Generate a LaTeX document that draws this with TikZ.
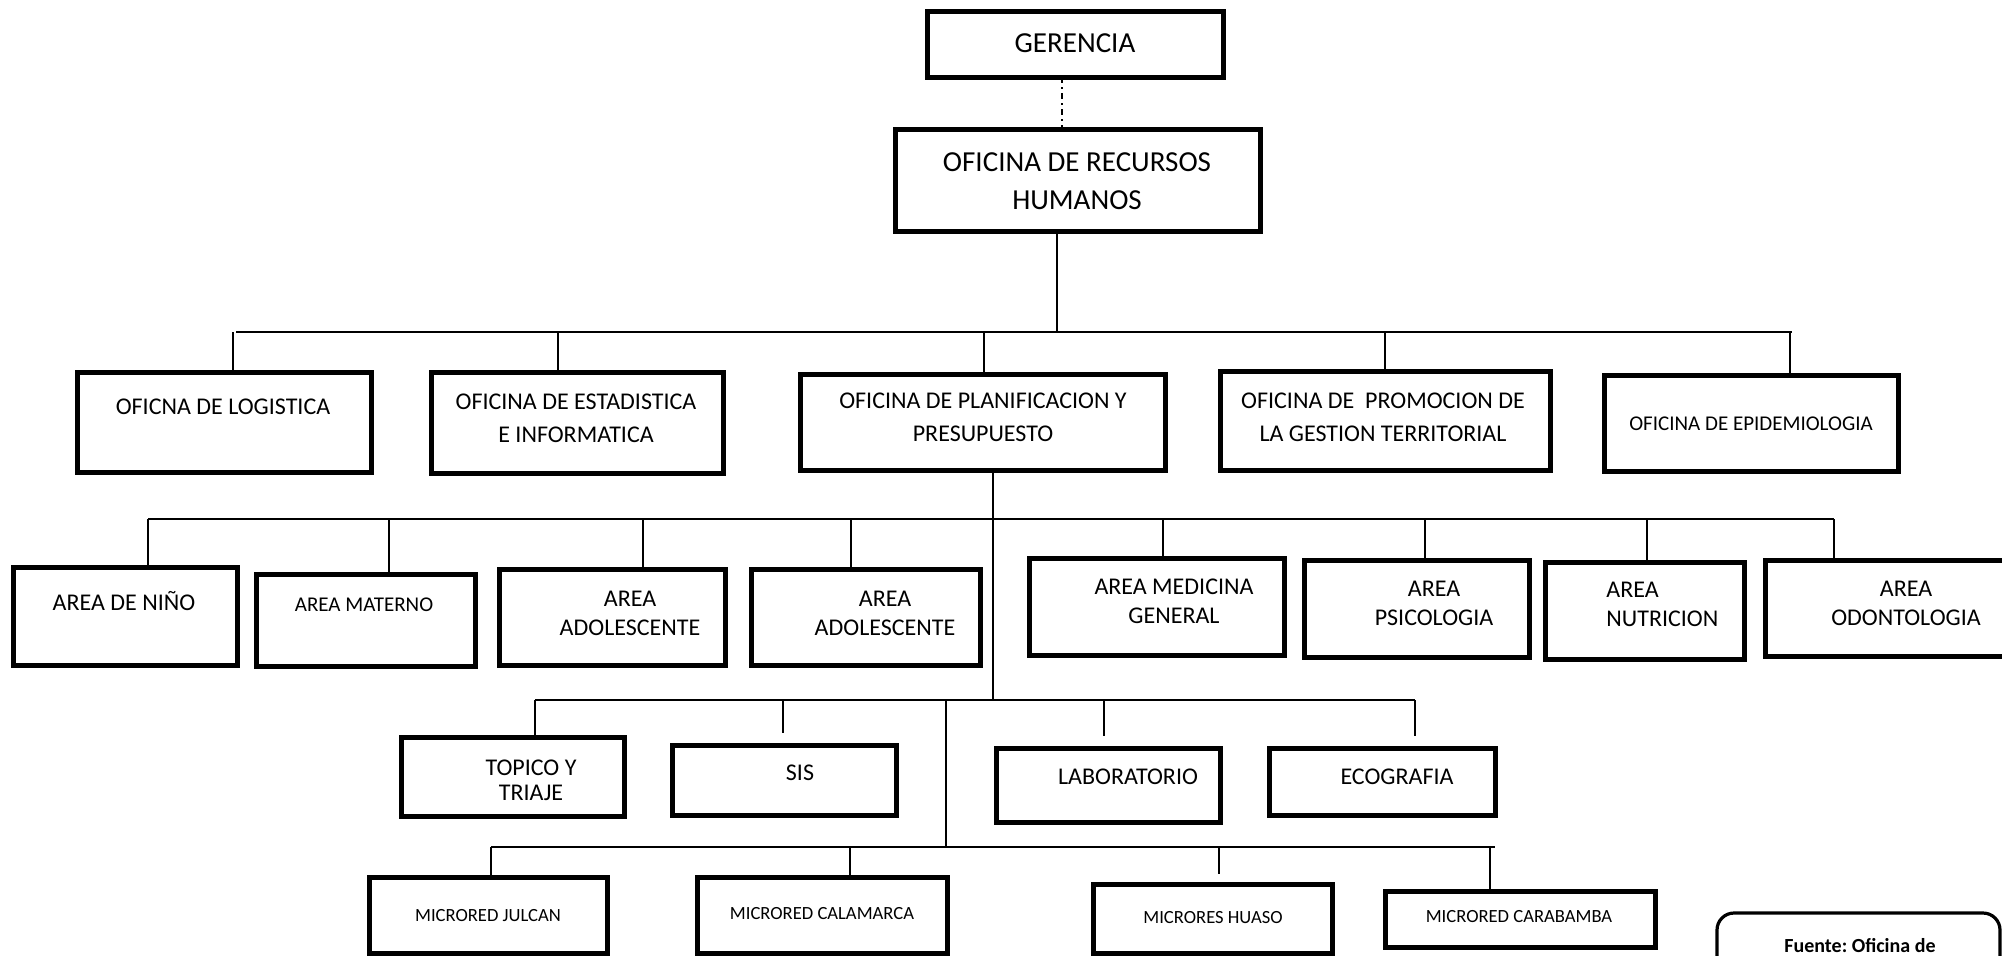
\documentclass[tikz,border=0pt]{standalone}
\usepackage{fontspec}
\setmainfont{Carlito}
\usetikzlibrary{fit}
\frenchspacing
\tikzstyle{caja} = [draw, rectangle, line width=2.5pt, inner sep=0pt]
\tikzstyle{marco} = [draw, rectangle, rounded corners=8.5pt, line width=1.6pt, inner sep=0pt]
\tikzstyle{grande} = [inner sep=0pt, align=center, font=\fontsize{14.5}{19}\selectfont]
\tikzstyle{oficina} = [inner sep=0pt, align=center, font=\fontsize{12}{16.5}\selectfont]
\tikzstyle{area} = [inner sep=0pt, align=center, font=\fontsize{12}{14.5}\selectfont]
\tikzstyle{chico} = [inner sep=0pt, align=center, font=\fontsize{10.5}{13}\selectfont]
\tikzstyle{micro} = [inner sep=0pt, align=center, font=\fontsize{9.3}{12}\selectfont]
\tikzstyle{linea} = [line width=1.1pt]
\tikzstyle{bus} = [line width=1.4pt]

\begin{document}
\begin{tikzpicture}[x=0.5pt, y=-0.5pt]
\useasboundingbox (0,0) rectangle (2002,955);
\clip (0,0) rectangle (2002,955);
\fill[white] (0,0) rectangle (2002,955);

\node[caja, fit={(927,11) (1223,77)}] (ger) {};
\node[caja, fit={(895,129) (1260,231)}] (rrhh) {};
\node[grande] (gert) at (1075,43) {GERENCIA};
\node[grande] (rrhht) at (1077,181) {OFICINA DE RECURSOS\\HUMANOS};

\node[caja, fit={(77,372) (371,472)}] (log) {};
\node[caja, fit={(431,372) (723,473)}] (est) {};
\node[caja, fit={(800,374) (1165,470)}] (plan) {};
\node[caja, fit={(1220,371) (1550,470)}] (prom) {};
\node[caja, fit={(1604,375) (1898,471)}] (epi) {};
\node[oficina] (logt) at (223,407) {OFICNA DE LOGISTICA};
\node[oficina] (estt) at (576,418) {OFICINA DE ESTADISTICA\\E INFORMATICA};
\node[oficina] (plant) at (983,417) {OFICINA DE PLANIFICACION Y\\PRESUPUESTO};
\node[oficina] (promt) at (1383,417) {OFICINA DE \ PROMOCION DE\\LA GESTION TERRITORIAL};
\node[chico] (epit) at (1751,424) {OFICINA DE EPIDEMIOLOGIA};

\node[caja, fit={(13,567) (237,665)}] (nino) {};
\node[caja, fit={(256,574) (475,666)}] (mat) {};
\node[caja, fit={(499,569) (725,665)}] (adoa) {};
\node[caja, fit={(751,569) (980,665)}] (adob) {};
\node[caja, fit={(1029,558) (1284,655)}] (med) {};
\node[caja, fit={(1304,560) (1529,657)}] (psi) {};
\node[caja, fit={(1545,562) (1744,659)}] (nut) {};
\node[caja, fit={(1765,560) (2047,656)}] (odo) {};
\node[area] (ninot) at (124,601) {AREA DE NIÑO};
\node[chico] (matt) at (364,605) {AREA MATERNO};
\node[area] (adoat) at (630,613) {AREA\\ADOLESCENTE};
\node[area] (adobt) at (885,613) {AREA\\ADOLESCENTE};
\node[area] (medt) at (1174,601) {AREA MEDICINA\\GENERAL};
\node[area] (psit) at (1434,603) {AREA\\PSICOLOGIA};
\node[area, align=left, anchor=west] (nutt) at (1606,604) {AREA\\NUTRICION};
\node[area] (odot) at (1906,603) {AREA\\ODONTOLOGIA};

\node[caja, fit={(401,737) (624,816)}] (top) {};
\node[caja, fit={(672,745) (896,815)}] (sis) {};
\node[caja, fit={(996,748) (1220,822)}] (lab) {};
\node[caja, fit={(1269,748) (1495,815)}] (eco) {};
\node[area, font=\fontsize{12}{12.5}\selectfont] (topt) at (531,780) {TOPICO Y\\TRIAJE};
\node[area] (sist) at (800,773) {SIS};
\node[area] (labt) at (1128,777) {LABORATORIO};
\node[area] (ecot) at (1397,777) {ECOGRAFIA};

\node[caja, fit={(369,877) (607,953)}] (jul) {};
\node[caja, fit={(697,877) (947,953)}] (cal) {};
\node[caja, fit={(1093,884) (1332,953)}] (hua) {};
\node[caja, fit={(1385,891) (1655,947)}] (car) {};
\node[micro] (jult) at (488,916) {MICRORED JULCAN};
\node[micro] (calt) at (822,914) {MICRORED CALAMARCA};
\node[micro] (huat) at (1213,918) {MICRORES HUASO};
\node[micro] (cart) at (1519,917) {MICRORED CARABAMBA};

\node[marco, fit={(1717,913) (2000,1010)}] (fte) {};
\node[inner sep=0pt, font=\fontsize{10}{12}\selectfont\bfseries] (ftet) at (1860,946) {Fuente: Oficina de};

\coordinate (g) at (1062,77);
\draw[linea, dash pattern=on 3pt off 2pt on 1pt off 2pt] (g) -- (g |- rrhh.north);

\coordinate (b2i) at (236,332);
\coordinate (b2c) at (1057,332);
\coordinate (b2d) at (1792,332);
\draw[bus] (b2i) -- (b2d);
\draw[linea] (rrhh.south -| b2c) -- (b2c);
\foreach \x/\n in {233/log, 558/est, 984/plan, 1385/prom, 1790/epi} {
  \coordinate (d) at (\x,332);
  \draw[linea] (d) -- (d |- \n.north);
}

\coordinate (b3i) at (148,519);
\coordinate (b3d) at (1834,519);
\coordinate (b4c) at (993,700);
\draw[bus] (b3i) -- (b3d);
\draw[linea] (plan.south -| b4c) -- (b4c);
\foreach \x/\n in {148/nino, 389/mat, 643/adoa, 851/adob, 1163/med, 1425/psi, 1647/nut, 1834/odo} {
  \coordinate (d) at (\x,519);
  \draw[linea] (d) -- (d |- \n.north);
}

\coordinate (b4i) at (535,700);
\coordinate (b4d) at (1415,700);
\coordinate (b5c) at (946,847);
\draw[bus] (b4i) -- (b4d);
\draw[linea] (b5c |- b4c) -- (b5c);
\draw[linea] (b4i) -- (b4i |- top.north);
\foreach \x/\n in {783/sis, 1104/lab, 1415/eco} {
  \coordinate (d) at (\x,700);
  \draw[linea, shorten >=5pt] (d) -- (d |- \n.north);
}

\coordinate (b5i) at (491,847);
\coordinate (b5d) at (1495,847);
\draw[bus] (b5i) -- (b5d);
\draw[linea] (b5i) -- (b5i |- jul.north);
\coordinate (d) at (850,847);
\draw[linea] (d) -- (d |- cal.north);
\coordinate (d) at (1219,847);
\draw[linea, shorten >=4pt] (d) -- (d |- hua.north);
\coordinate (d) at (1490,847);
\draw[linea] (d) -- (d |- car.north);
\end{tikzpicture}
\end{document}
